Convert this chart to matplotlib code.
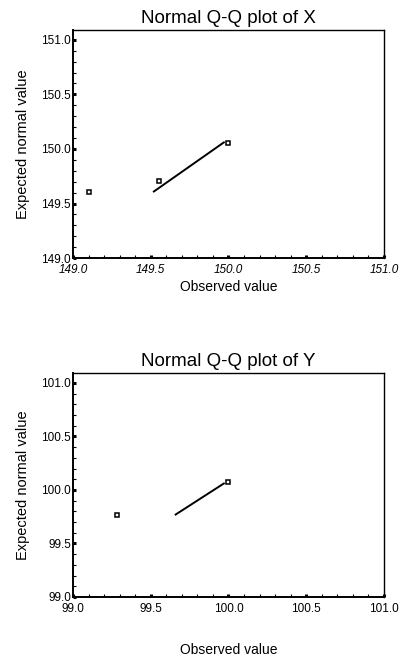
import numpy as np
import matplotlib.pyplot as plt
from matplotlib.ticker import MultipleLocator, FormatStrFormatter

plt.rcParams['font.family'] = ['Liberation Sans', 'DejaVu Sans']

# Q-Q data
x_obs = [149.1, 149.55, 150.0]
x_exp = [149.61, 149.71, 150.05]
x_line_obs = [149.52, 149.97]
x_line_exp = [149.61, 150.06]

y_obs = [99.28, 100.0]
y_exp = [99.77, 100.07]
y_line_obs = [99.66, 99.97]
y_line_exp = [99.77, 100.06]

fig = plt.figure(figsize=(4.02, 6.6), dpi=100)


def qq_panel(rect, obs, exp, lobs, lexp, lo, title, italic_x, xlab_y):
    ax = fig.add_axes(rect)
    ax.plot(lobs, lexp, color='black', lw=1.4)
    ax.plot(obs, exp, ls='none', marker='s', ms=3.5, mfc='white', mec='black', mew=1.1)
    ax.set_xlim(lo, lo + 2)
    ax.set_ylim(lo, lo + 2.09)
    ax.xaxis.set_major_locator(MultipleLocator(0.5))
    ax.yaxis.set_major_locator(MultipleLocator(0.5))
    ax.xaxis.set_minor_locator(MultipleLocator(0.1))
    ax.yaxis.set_minor_locator(MultipleLocator(0.1))
    ax.xaxis.set_major_formatter(FormatStrFormatter('%.1f'))
    ax.yaxis.set_major_formatter(FormatStrFormatter('%.1f'))
    ax.tick_params(which='major', direction='in', length=2.5, width=2.2, labelsize=8.5, pad=1.5)
    ax.tick_params(which='minor', direction='in', length=2.5, width=0.8)
    ax.tick_params(axis='x', which='major', pad=4)
    if italic_x:
        for t in ax.get_xticklabels():
            t.set_style('italic')
    for s in ax.spines.values():
        s.set_linewidth(1.0)
    ax.spines['left'].set_linewidth(1.4)
    ax.spines['bottom'].set_linewidth(1.4)
    ax.set_title(title, fontsize=13.5, pad=5)
    ax.set_ylabel('Expected normal value', fontsize=10.5, va='center')
    ax.set_xlabel('Observed value', fontsize=10, va='center')
    ax.yaxis.set_label_coords(-0.161, 0.5)
    ax.xaxis.set_label_coords(0.5, xlab_y)
    return ax


qq_panel([0.1816, 0.609, 0.7736, 0.3455], x_obs, x_exp, x_line_obs, x_line_exp,
         149.0, 'Normal Q-Q plot of X', True, -0.127)
qq_panel([0.1816, 0.0955, 0.7736, 0.339], y_obs, y_exp, y_line_obs, y_line_exp,
         99.0, 'Normal Q-Q plot of Y', False, -0.237)

fig.savefig('out.png', dpi=100)
